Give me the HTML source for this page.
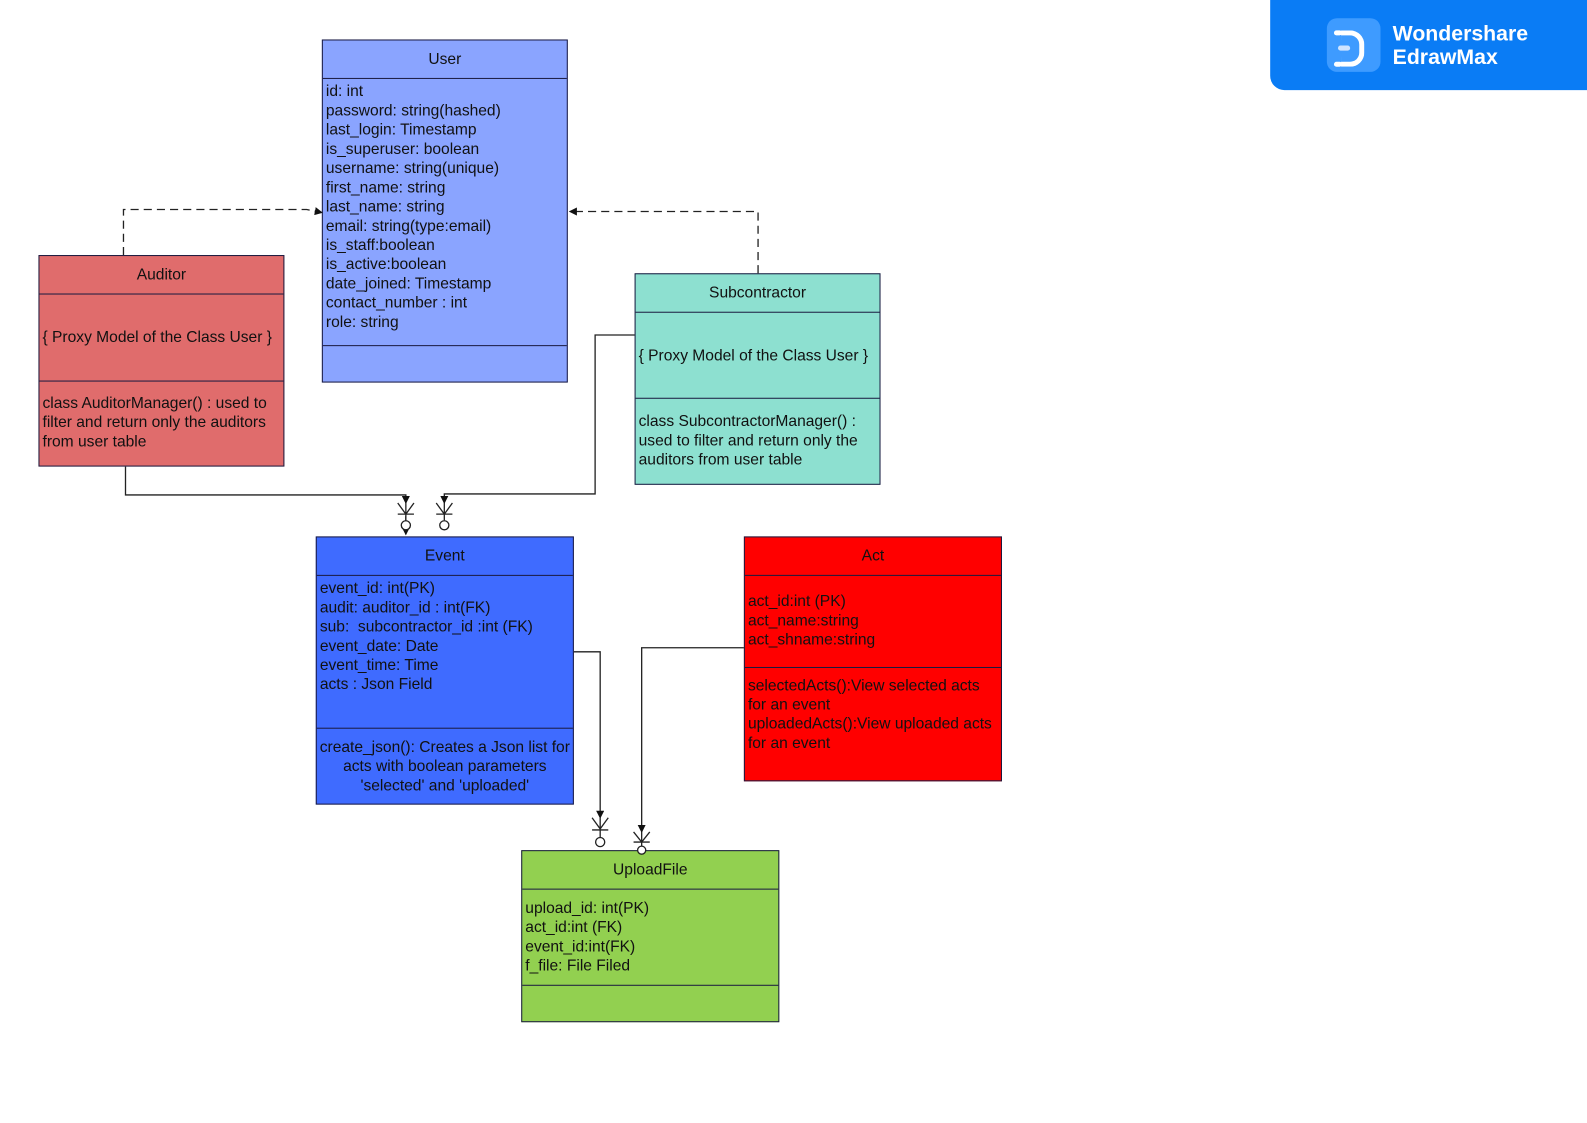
<!DOCTYPE html>
<html><head><meta charset="utf-8"><style>
body{margin:0;width:1587px;height:1123px;background:#fff;position:relative;overflow:hidden;font-family:"Liberation Sans",sans-serif;}
#w{position:absolute;left:0;top:0;width:1568px;height:1110px;transform:scale(1.0121);transform-origin:0 0;}
.b{position:absolute;border:1px solid #1a1a40;box-sizing:border-box;}
.s{position:absolute;left:0;right:0;box-sizing:border-box;font-size:15.4px;color:#111;line-height:19px;}
.h{display:flex;align-items:center;justify-content:center;border-bottom:1px solid #1a1a40;}
.t{border-bottom:1px solid #1a1a40;padding:3px 3px;}
.c{display:flex;align-items:center;}
svg{position:absolute;left:0;top:0;}
</style></head><body><div id="w">

<div class="b" style="left:318px;top:39px;width:243px;height:339px;background:#8aa4ff">
<div class="s h" style="top:0;height:38px">User</div>
<div class="s t" style="top:38px;height:264px;padding-top:3px">id: int<br>password: string(hashed)<br>last_login: Timestamp<br>is_superuser: boolean<br>username: string(unique)<br>first_name: string<br>last_name: string<br>email: string(type:email)<br>is_staff:boolean<br>is_active:boolean<br>date_joined: Timestamp<br>contact_number : int<br>role: string</div>
</div>

<div class="b" style="left:38px;top:252px;width:243px;height:209px;background:#e06c6c">
<div class="s h" style="top:0;height:38px">Auditor</div>
<div class="s t c" style="top:38px;height:86px">{ Proxy Model of the Class User }</div>
<div class="s" style="top:136px;padding:0 3px">class AuditorManager() : used to filter and return only the auditors from user table</div>
</div>

<div class="b" style="left:627px;top:270px;width:243px;height:209px;background:#8de0d0">
<div class="s h" style="top:0;height:38px">Subcontractor</div>
<div class="s t c" style="top:38px;height:85px">{ Proxy Model of the Class User }</div>
<div class="s" style="top:136px;padding:0 3px">class SubcontractorManager() : used to filter and return only the auditors from user table</div>
</div>

<div class="b" style="left:312px;top:530px;width:255px;height:265px;background:#3f6bff">
<div class="s h" style="top:0;height:38px">Event</div>
<div class="s t" style="top:38px;height:151px;padding-top:3px">event_id: int(PK)<br>audit: auditor_id : int(FK)<br>sub:&nbsp; subcontractor_id :int (FK)<br>event_date: Date<br>event_time: Time<br>acts : Json Field</div>
<div class="s" style="top:198px;text-align:center">create_json(): Creates a Json list for acts with boolean parameters 'selected' and 'uploaded'</div>
</div>

<div class="b" style="left:735px;top:530px;width:255px;height:242px;background:#ff0000">
<div class="s h" style="top:0;height:38px">Act</div>
<div class="s t" style="top:38px;height:91px;padding-top:16px">act_id:int (PK)<br>act_name:string<br>act_shname:string</div>
<div class="s" style="top:137px;padding:0 3px">selectedActs():View selected acts for an event<br>uploadedActs():View uploaded acts for an event</div>
</div>

<div class="b" style="left:515px;top:840px;width:255px;height:170px;background:#92d050">
<div class="s h" style="top:0;height:38px">UploadFile</div>
<div class="s t" style="top:38px;height:95px;padding-top:9px">upload_id: int(PK)<br>act_id:int (FK)<br>event_id:int(FK)<br>f_file: File Filed</div>
</div>

<svg width="1568" height="1110">
<defs><marker id="a" markerWidth="8" markerHeight="8" refX="7" refY="4" orient="auto" markerUnits="userSpaceOnUse"><path d="M0,0L8,4L0,8z" fill="#111"/></marker></defs>
<g fill="none" stroke="#222" stroke-width="1.3">
<path d="M122,252V207H303L318,210" stroke-dasharray="8,5" marker-end="url(#a)"/>
<path d="M749,270V209H563" stroke-dasharray="8,5" marker-end="url(#a)"/>
<path d="M124,461V489H401V497" marker-end="url(#a)"/>
<path d="M401,510V528" marker-end="url(#a)"/>
<path d="M627,331H588V488H439V497" marker-end="url(#a)"/>
<path d="M567,644H593V808" marker-end="url(#a)"/>
<path d="M735,640H634V822" marker-end="url(#a)"/>
<path d="M393,497L401,508L409,497M401,497V514M393,508H409"/>
<circle cx="401" cy="519" r="4.5" fill="#fff"/>
<path d="M431,497L439,508L447,497M439,497V514M431,508H447"/>
<circle cx="439" cy="519" r="4.5" fill="#fff"/>
<path d="M585,808L593,819L601,808M593,808V827M585,820H601"/>
<circle cx="593" cy="832" r="4.5" fill="#fff"/>
<path d="M626,822L634,832L642,822M634,822V838M626,832H642"/>
<circle cx="634" cy="840" r="4" fill="#fff"/>
</g>
</svg>

<div style="position:absolute;left:1255px;top:0;width:340px;height:89px;background:#0a7cf5;border-bottom-left-radius:14px"></div>
<div style="position:absolute;left:1311px;top:18px;width:53px;height:53px;border-radius:10px;background:#3e9bff"></div>
<div style="position:absolute;left:1325px;top:30px;width:18px;height:26px;border:5px solid #fff;border-left:none;border-radius:0 14px 14px 0"></div>
<div style="position:absolute;left:1318px;top:30px;width:8px;height:5px;background:#fff;border-radius:3px"></div>
<div style="position:absolute;left:1318px;top:61px;width:8px;height:5px;background:#fff;border-radius:3px"></div>
<div style="position:absolute;left:1322px;top:45px;width:12px;height:5px;background:#cfe4ff;border-radius:3px"></div>
<div style="position:absolute;left:1376px;top:22px;color:#fff;font-weight:bold;font-size:21px;line-height:23px">Wondershare<br>EdrawMax</div>
</div></body></html>
